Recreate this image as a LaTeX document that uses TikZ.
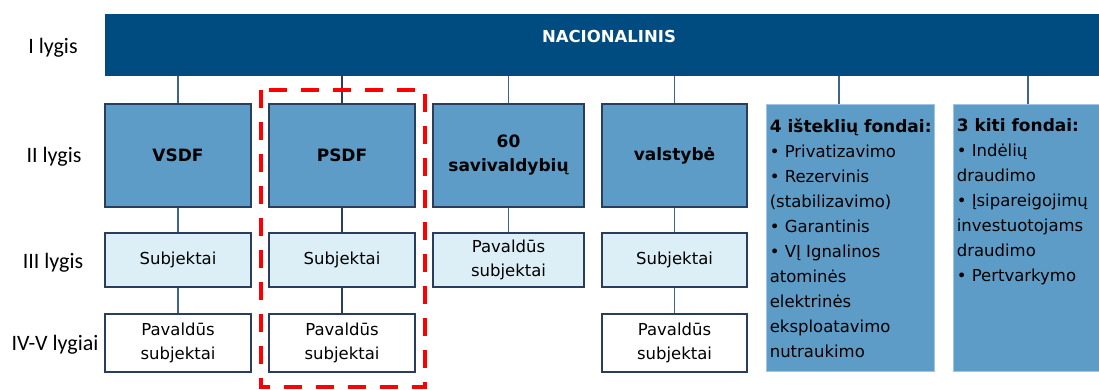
\documentclass[tikz,border=0pt]{standalone}
\usepackage{fontspec}
\setmainfont{DejaVu Sans}
\newfontfamily\labfont{Carlito}
\definecolor{navy}{RGB}{0,76,128}
\definecolor{midblue}{RGB}{93,156,199}
\definecolor{paleblue}{RGB}{220,238,246}
\definecolor{edgec}{RGB}{40,62,92}
\definecolor{linkc}{RGB}{60,100,140}
\definecolor{lightedge}{RGB}{160,196,228}
\begin{document}
\begin{tikzpicture}[x=1pt,y=-1pt,
  topbar/.style={fill=navy,draw=none,minimum width=994pt,minimum height=62pt,inner sep=0pt},
  lvltwo/.style={draw=edgec,line width=1.2pt,fill=midblue,minimum height=103pt,inner sep=0pt,align=center,font=\fontsize{17}{24}\selectfont\bfseries},
  lvlthree/.style={draw=edgec,line width=1.2pt,fill=paleblue,minimum height=54pt,inner sep=0pt,align=center,font=\fontsize{16.5}{24.5}\selectfont},
  lvlfour/.style={draw=edgec,line width=1.2pt,fill=white,minimum height=58pt,inner sep=0pt,align=center,font=\fontsize{16.5}{24.5}\selectfont},
  fund/.style={draw=lightedge,line width=0.8pt,fill=midblue,minimum height=267pt,inner sep=0pt},
  fundtext/.style={anchor=north west,inner sep=0pt,align=left,font=\fontsize{16.5}{25}\selectfont},
  link/.style={draw=linkc,line width=1.4pt},
  darklink/.style={draw=edgec,line width=1.7pt},
  lab/.style={font=\labfont\fontsize{22}{26}\selectfont,inner sep=0pt},
  redbox/.style={draw=red,line width=4pt,dash pattern=on 18pt off 14pt}
]
\useasboundingbox (0,0) rectangle (1099,390);

% level I
\node[topbar] (top) at (602,45) {};
\node[font=\fontsize{16.5}{20}\selectfont\bfseries,text=white,inner sep=0pt] (nac) at (609,36) {NACIONALINIS};

% level II
\node[lvltwo,minimum width=146pt] (vsdf) at (178,155.5) {VSDF};
\node[lvltwo,minimum width=146pt] (psdf) at (342,155.5) {PSDF};
\node[lvltwo,minimum width=151pt] (sav) at (508.5,155.5) {60\\savivaldybių};
\node[lvltwo,minimum width=145pt] (val) at (674.5,155.5) {valstybė};
\node[fund,minimum width=168pt] (f4) at (850,237.5) {};
\node[fund,minimum width=150pt] (f3) at (1028,237.5) {};

\node[fundtext] (f4t) at ([xshift=4pt,yshift=-15pt]f4.north west)
  {{\fontsize{17}{25}\selectfont\bfseries 4 išteklių fondai:}\\
   • Privatizavimo\\
   • Rezervinis\\
   (stabilizavimo)\\
   • Garantinis\\
   • VĮ Ignalinos\\
   atominės\\
   elektrinės\\
   eksploatavimo\\
   nutraukimo};
\node[fundtext] (f3t) at ([xshift=4pt,yshift=-15pt]f3.north west)
  {{\fontsize{17}{25}\selectfont\bfseries 3 kiti fondai:}\\
   • Indėlių\\
   draudimo\\
   • Įsipareigojimų\\
   investuotojams\\
   draudimo\\
   • Pertvarkymo};

% level III
\node[lvlthree,minimum width=146pt] (vsdf3) at (178,260) {Subjektai};
\node[lvlthree,minimum width=146pt] (psdf3) at (342,260) {Subjektai};
\node[lvlthree,minimum width=151pt] (sav3) at (508.5,260) {Pavaldūs\\subjektai};
\node[lvlthree,minimum width=145pt] (val3) at (674.5,260) {Subjektai};

% level IV
\node[lvlfour,minimum width=146pt] (vsdf4) at (178,343) {Pavaldūs\\subjektai};
\node[lvlfour,minimum width=146pt] (psdf4) at (342,343) {Pavaldūs\\subjektai};
\node[lvlfour,minimum width=145pt] (val4) at (674.5,343) {Pavaldūs\\subjektai};

% connectors
\draw[link] (vsdf.north) -- (vsdf.north |- top.south);
\draw[darklink] (psdf.north) -- (psdf.north |- top.south);
\draw[link] (sav.north) -- (sav.north |- top.south);
\draw[link] (val.north) -- (val.north |- top.south);
\draw[link] ([xshift=-11pt]f4.north) -- ([xshift=-11pt]f4.north |- top.south);
\draw[link] (f3.north) -- (f3.north |- top.south);

\draw[link] (vsdf.south) -- (vsdf3.north);
\draw[link] (vsdf3.south) -- (vsdf4.north);
\draw[darklink] (psdf.south) -- (psdf3.north);
\draw[darklink] (psdf3.south) -- (psdf4.north);
\draw[link] (sav.south) -- (sav3.north);
\draw[link] (val.south) -- (val3.north);
\draw[link] (val3.south) -- (val4.north);

% red dashed frame
\draw[redbox] (261,90) rectangle (425,387);

% level labels
\node[lab] (l1) at (53,48) {I lygis};
\node[lab] (l2) at (54,157) {II lygis};
\node[lab] (l3) at (53,263) {III lygis};
\node[lab] (l4) at (55,345) {IV-V lygiai};
\end{tikzpicture}
\end{document}
